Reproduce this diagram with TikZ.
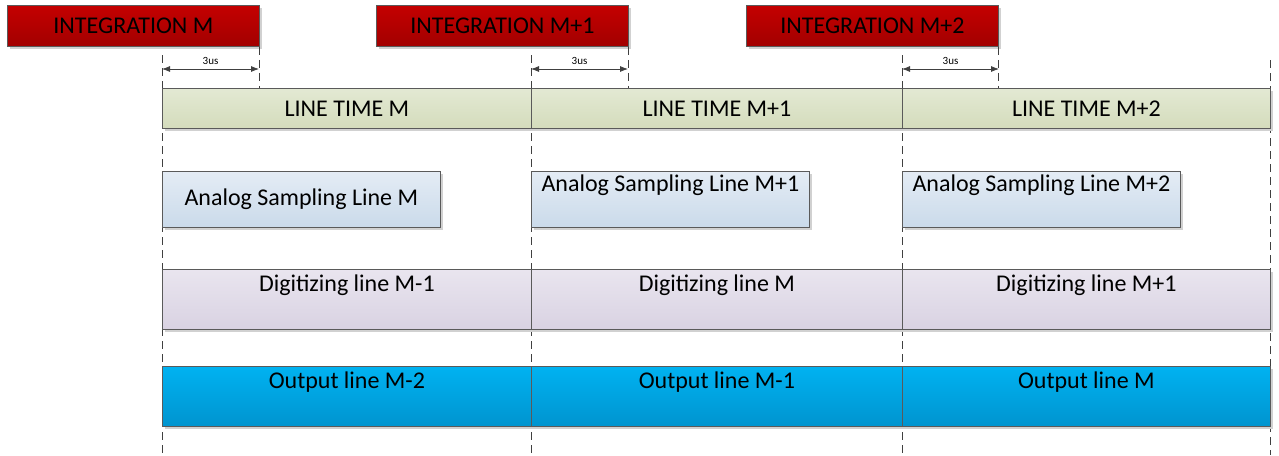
\documentclass[tikz,border=0pt]{standalone}
\usepackage{fontspec}
\setmainfont{Carlito}
\usetikzlibrary{shadows,arrows.meta}
\definecolor{edge}{HTML}{5A5A5A}
\definecolor{intT}{HTML}{C40000}
\definecolor{intB}{HTML}{A20000}
\definecolor{ltT}{HTML}{E3E9D3}
\definecolor{ltB}{HTML}{D4DCBC}
\definecolor{anT}{HTML}{E4ECF5}
\definecolor{anB}{HTML}{CADAEA}
\definecolor{dgT}{HTML}{E9E5EF}
\definecolor{dgB}{HTML}{D9D2E2}
\definecolor{opT}{HTML}{00B2F1}
\definecolor{opB}{HTML}{0094CF}
\definecolor{dashc}{HTML}{404040}
\begin{document}
\begin{tikzpicture}[x=1pt,y=-1pt,
  bx/.style={draw=edge, line width=0.8pt, inner sep=0pt, anchor=north west,
    font=\fontsize{24}{28}\selectfont,
    drop shadow={shadow xshift=2.5pt, shadow yshift=-2.5pt, fill=black!18, opacity=1}},
  intbox/.style={bx, top color=intT, bottom color=intB, minimum width=252pt, minimum height=41pt},
  ltbox/.style={bx, top color=ltT, bottom color=ltB, minimum height=40pt},
  anbox/.style={bx, top color=anT, bottom color=anB, minimum width=278pt, minimum height=56pt},
  dgbox/.style={bx, top color=dgT, bottom color=dgB, minimum height=60pt},
  opbox/.style={bx, top color=opT, bottom color=opB, minimum height=60pt},
  toplabel/.style={font=\fontsize{24}{28}\selectfont, inner sep=0pt, anchor=center},
  guide/.style={draw=dashc, line width=0.8pt, dash pattern=on 8pt off 5pt},
  dim/.style={draw=dashc, line width=0.8pt, {Latex[length=8pt,width=6pt]}-{Latex[length=8pt,width=6pt]}},
  dimlabel/.style={font=\fontsize{11}{13}\selectfont, inner sep=0pt}
]
\useasboundingbox (0,0) rectangle (1279,455);

% guide line end points
\coordinate (g1t) at (162,55);  \coordinate (g1b) at (162,455);
\coordinate (g2t) at (531,55);  \coordinate (g2b) at (531,455);
\coordinate (g3t) at (902,55);  \coordinate (g3b) at (902,455);
\coordinate (g4t) at (1270,60); \coordinate (g4b) at (1270,455);
\draw[guide] (g1t) -- (g1b);
\draw[guide] (g2t) -- (g2b);
\draw[guide] (g3t) -- (g3b);
\draw[guide] (g4t) -- (g4b);

% integration boxes
\node[intbox] (i0) at (7,5) {INTEGRATION M};
\node[intbox] (i1) at (376,5) {INTEGRATION M+1};
\node[intbox] (i2) at (746,5) {INTEGRATION M+2};

% line time bar
\node[ltbox, minimum width=369pt] (l0) at (162,88) {LINE TIME M};
\node[ltbox, minimum width=371pt] (l1) at (531,88) {LINE TIME M+1};
\node[ltbox, minimum width=368pt] (l2) at (902,88) {LINE TIME M+2};

\draw[guide] (i0.south east) -- (i0.south east |- l0.north);
\draw[guide] (i1.south east) -- (i1.south east |- l1.north);
\draw[guide] (i2.south east) -- (i2.south east |- l2.north);

% 3us dimensions
\coordinate (d0a) at (162,69); \coordinate (d0b) at (259,69);
\coordinate (d1a) at (531,69); \coordinate (d1b) at (628,69);
\coordinate (d2a) at (902,69); \coordinate (d2b) at (999,69);
\draw[dim] (d0a) -- node[dimlabel, above=4pt] (t0) {3us} (d0b);
\draw[dim] (d1a) -- node[dimlabel, above=4pt] (t1) {3us} (d1b);
\draw[dim] (d2a) -- node[dimlabel, above=4pt] (t2) {3us} (d2b);

% analog sampling
\node[anbox] (a0) at (162,171) {Analog Sampling Line M};
\node[anbox] (a1) at (531,171) {};
\node[toplabel] (a1t) at ([yshift=-14pt]a1.north) {Analog Sampling Line M+1};
\node[anbox] (a2) at (902,171) {};
\node[toplabel] (a2t) at ([yshift=-14pt]a2.north) {Analog Sampling Line M+2};

% digitizing
\node[dgbox, minimum width=369pt] (dg0) at (162,269) {};
\node[dgbox, minimum width=371pt] (dg1) at (531,269) {};
\node[dgbox, minimum width=368pt] (dg2) at (902,269) {};
\node[toplabel] (dg0t) at ([yshift=-16pt]dg0.north) {Digitizing line M-1};
\node[toplabel] (dg1t) at ([yshift=-16pt]dg1.north) {Digitizing line M};
\node[toplabel] (dg2t) at ([yshift=-16pt]dg2.north) {Digitizing line M+1};

% output
\node[opbox, minimum width=369pt] (o0) at (162,366) {};
\node[opbox, minimum width=371pt] (o1) at (531,366) {};
\node[opbox, minimum width=368pt] (o2) at (902,366) {};
\node[toplabel] (o0t) at ([yshift=-16pt]o0.north) {Output line M-2};
\node[toplabel] (o1t) at ([yshift=-16pt]o1.north) {Output line M-1};
\node[toplabel] (o2t) at ([yshift=-16pt]o2.north) {Output line M};
\end{tikzpicture}
\end{document}
